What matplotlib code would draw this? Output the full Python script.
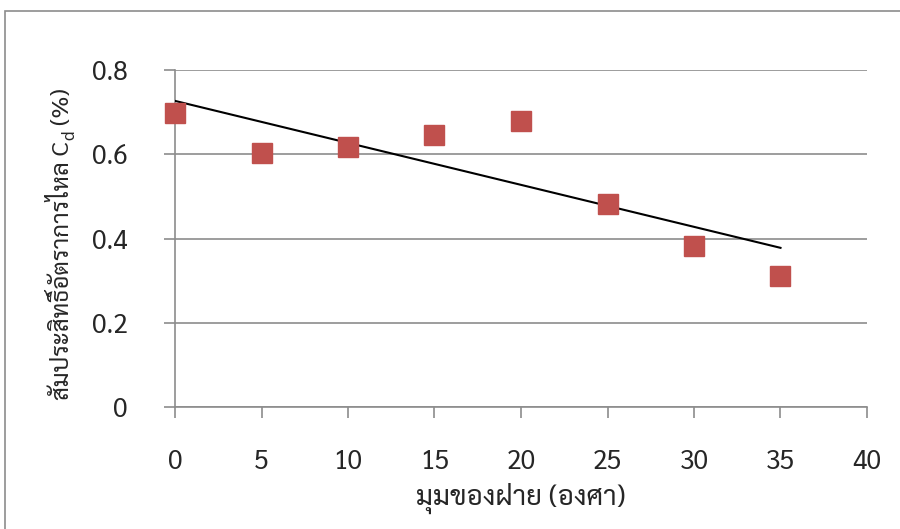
import numpy as np
import matplotlib
matplotlib.use("Agg")
import matplotlib.pyplot as plt
from matplotlib.patches import Rectangle

# ฟอนต์ภาษาไทย
plt.rcParams["font.family"] = ["Sarabun", "DejaVu Sans"]

# ข้อมูล
angle = [0, 5, 10, 15, 20, 25, 30, 35]
cd = [0.698, 0.603, 0.617, 0.646, 0.679, 0.482, 0.382, 0.311]
xticks = [0, 5, 10, 15, 20, 25, 30, 35, 40]
yticks = [0, 0.2, 0.4, 0.6, 0.8]
yticklabels = ["0", "0.2", "0.4", "0.6", "0.8"]
xlabel = "มุมของฝาย (องศา)"
ylabel_main = "สัมประสิทธิ์อัตราการไหล C"
ylabel_sub = "d"
ylabel_end = " (%)"

grey = "#8c8c8c"
txt = "#262626"

fig = plt.figure(figsize=(9, 5.29), dpi=100)
ax = fig.add_axes([175 / 900, 1 - 407 / 529, (867 - 175) / 900, (407 - 70) / 529])

# กรอบนอก
fig.patches.append(Rectangle((5 / 900, -0.1), 1.2, 1.1 - 11 / 529, transform=fig.transFigure,
                             fill=False, edgecolor=grey, linewidth=1.2))

# เส้นแนวโน้ม (linear)
k, b = np.polyfit(angle, cd, 1)
xs = np.array([angle[0], angle[-1]])
ax.plot(xs, k * xs + b, color="black", linewidth=1.5, zorder=3)

ax.plot(angle, cd, linestyle="none", marker="s", markersize=14.5,
        color="#c0504d", markeredgecolor="#c0504d", zorder=4, clip_on=False)

ax.set_xlim(0, 40)
ax.set_ylim(0, 0.8)
ax.set_xticks(xticks)
ax.set_yticks(yticks)
ax.set_yticklabels(yticklabels)
ax.yaxis.grid(True, color=grey, linewidth=1.2)
ax.set_axisbelow(True)

for s in ["top", "right"]:
    ax.spines[s].set_visible(False)
for s in ["left", "bottom"]:
    ax.spines[s].set_color(grey)
    ax.spines[s].set_linewidth(1.2)

ax.tick_params(axis="both", direction="out", length=8, width=1.2, color=grey,
               labelsize=19, labelcolor=txt)
ax.tick_params(axis="y", pad=26)
ax.tick_params(axis="x", pad=22)

ax.set_xlabel(xlabel, fontsize=20, color=txt, labelpad=5)

# ชื่อแกน y (ตัวห้อย d แยกเป็นข้อความเล็ก)
bx = 69 / 900
t1 = fig.text(bx, 1 - 400 / 529, ylabel_main, rotation=90, rotation_mode="anchor",
              ha="left", va="baseline", fontsize=17.3, color=txt)
fig.canvas.draw()
r = fig.canvas.get_renderer()
top1 = t1.get_window_extent(r).y1 / fig.bbox.height
t2 = fig.text(bx + 5 / 900, top1 + 1 / 529, ylabel_sub, rotation=90, rotation_mode="anchor",
              ha="left", va="baseline", fontsize=12.5, color=txt)
fig.canvas.draw()
top2 = t2.get_window_extent(r).y1 / fig.bbox.height
fig.text(bx, top2, ylabel_end, rotation=90, rotation_mode="anchor",
         ha="left", va="baseline", fontsize=17.3, color=txt)

fig.savefig("out.png", dpi=100)
